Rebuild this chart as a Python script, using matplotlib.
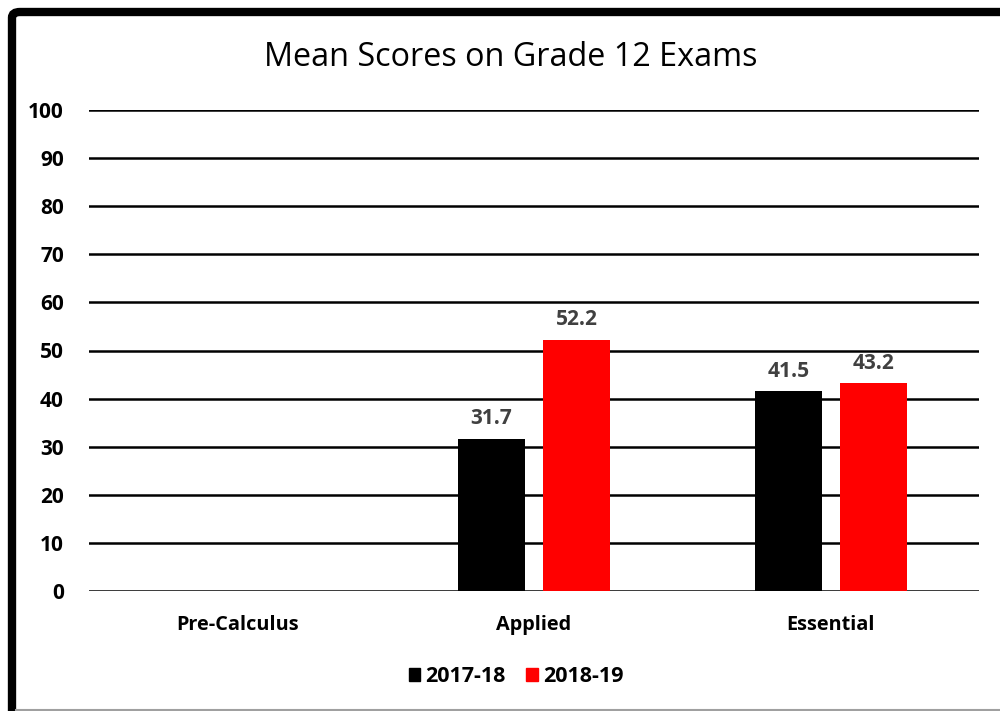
import matplotlib
matplotlib.use("Agg")
import matplotlib.pyplot as plt
from matplotlib.patches import FancyBboxPatch, Rectangle
from matplotlib.lines import Line2D
import numpy as np

categories = ["Pre-Calculus", "Applied", "Essential"]
series_names = ["2017-18", "2018-19"]
values_2017 = [np.nan, 31.7, 41.5]
values_2018 = [np.nan, 52.2, 43.2]
colors = ["#000000", "#FF0000"]
yticks = [0, 10, 20, 30, 40, 50, 60, 70, 80, 90, 100]

plt.rcParams['font.family'] = ['Open Sans', 'DejaVu Sans']

W, H = 1000, 711
fig = plt.figure(figsize=(W/100, H/100), dpi=100)

ax = fig.add_axes([89/W, 1-591/H, (979-89)/W, (591-110)/H])
x = np.arange(len(categories))
bw = 0.226
off = 0.143
for i, (vals, c, name) in enumerate(zip([values_2017, values_2018], colors, series_names)):
    pos = x + (-off if i == 0 else off)
    ax.bar(pos, vals, width=bw, color=c, zorder=3, label=name)
    for p, v in zip(pos, vals):
        if not np.isnan(v):
            ax.text(p, v + 2.0, f"{v:.1f}", ha='center', va='bottom',
                    fontsize=15, fontweight='bold', color='#404040')

ax.set_xlim(-0.5, 2.5)
ax.set_ylim(0, 100)
ax.set_yticks(yticks)
ax.set_yticklabels([str(t) for t in yticks], fontsize=15, fontweight='bold')
ax.set_xticks(x)
ax.set_xticklabels(categories, fontsize=14.3, fontweight='bold')
ax.tick_params(axis='both', length=0)
ax.tick_params(axis='y', pad=18)
ax.tick_params(axis='x', pad=17)
ax.grid(axis='y', color='black', linewidth=1.8, zorder=0)
ax.set_axisbelow(True)
for s in ax.spines.values():
    s.set_visible(False)

fig.text(511/W, 1-57/H, "Mean Scores on Grade 12 Exams", ha='center', va='center', fontsize=23.3)

handles = [Rectangle((0, 0), 1, 1, color=c) for c in colors]
fig.legend(handles, series_names, loc='center', bbox_to_anchor=(516/W, 1-677/H),
           ncol=2, frameon=False, prop={'size': 15.5, 'weight': 'bold'},
           handlelength=0.55, handleheight=0.55, handletextpad=0.23, columnspacing=0.95)

# outer frame
frame = FancyBboxPatch((12/W, -10/H), (W+20)/W, (H-12+10)/H,
                       boxstyle="round,pad=0,rounding_size=0.008",
                       transform=fig.transFigure, fill=False, edgecolor='black',
                       linewidth=6, zorder=10)
fig.patches.append(frame)
fig.lines.append(Line2D([16/W, 1], [1.5/H, 1.5/H], transform=fig.transFigure,
                        color='#A0A0A0', linewidth=1.5, zorder=11))

fig.savefig("out.png", dpi=100)
